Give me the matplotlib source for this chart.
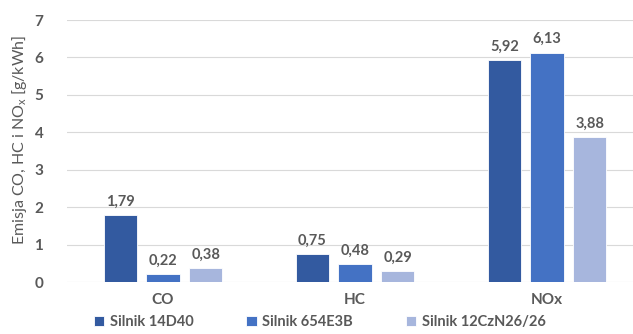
import numpy as np
import matplotlib.pyplot as plt

plt.rcParams['font.family'] = ['Lato', 'DejaVu Sans']

# emission data per pollutant and engine
categories = ["CO", "HC", "NOx"]
engines = ["Silnik 14D40", "Silnik 654E3B", "Silnik 12CzN26/26"]
s14d40 = [1.79, 0.75, 5.92]
s654e3b = [0.22, 0.48, 6.13]
s12czn = [0.38, 0.29, 3.88]
colors = ["#335AA0", "#4472C4", "#A7B6DD"]

text_col = "#595959"

fig = plt.figure(figsize=(6.33, 3.34), dpi=100)
ax = fig.add_axes([67/633, 52/334, 576/633, 262/334])

x = np.arange(len(categories))
width = 0.172
step = 0.222
for i, (vals, lab, col) in enumerate(zip([s14d40, s654e3b, s12czn], engines, colors)):
    pos = x + (i - 1) * step
    bars = ax.bar(pos, vals, width, color=col, label=lab, edgecolor="white", linewidth=0.6, zorder=3)
    for b, v in zip(bars, vals):
        ax.text(b.get_x() + b.get_width() / 2, v + 0.17, f"{v:.2f}".replace(".", ","),
                ha="center", va="bottom", fontsize=10.5, fontweight="bold", color=text_col)

ax.set_xlim(-0.5, 2.5)
ax.set_ylim(0, 7)
ax.set_yticks(range(8))
ax.set_xticks(x)
ax.set_xticklabels(categories)
ax.yaxis.grid(True, color="#D9D9D9", linewidth=0.8, zorder=0)
for s in ax.spines.values():
    s.set_visible(False)
ax.tick_params(length=0, colors=text_col, labelsize=11)
ax.tick_params(axis="y", pad=17)
ax.tick_params(axis="x", pad=8)
for t in ax.get_xticklabels() + ax.get_yticklabels():
    t.set_fontweight("bold")

fig.text(20/633, (334 - 140) / 334, "Emisja CO, HC i NO$_\\mathregular{x}$ [g/kWh]", rotation=90,
         ha="center", va="center", fontsize=11.5, color=text_col)

ax.legend(loc="center left", bbox_to_anchor=(14/576, -40/262), ncol=3, frameon=False,
          handlelength=0.7, handleheight=0.7, handletextpad=0.4, columnspacing=3.6,
          prop={"weight": "bold", "size": 10.5}, labelcolor=text_col)

fig.savefig("out.png", dpi=100)
